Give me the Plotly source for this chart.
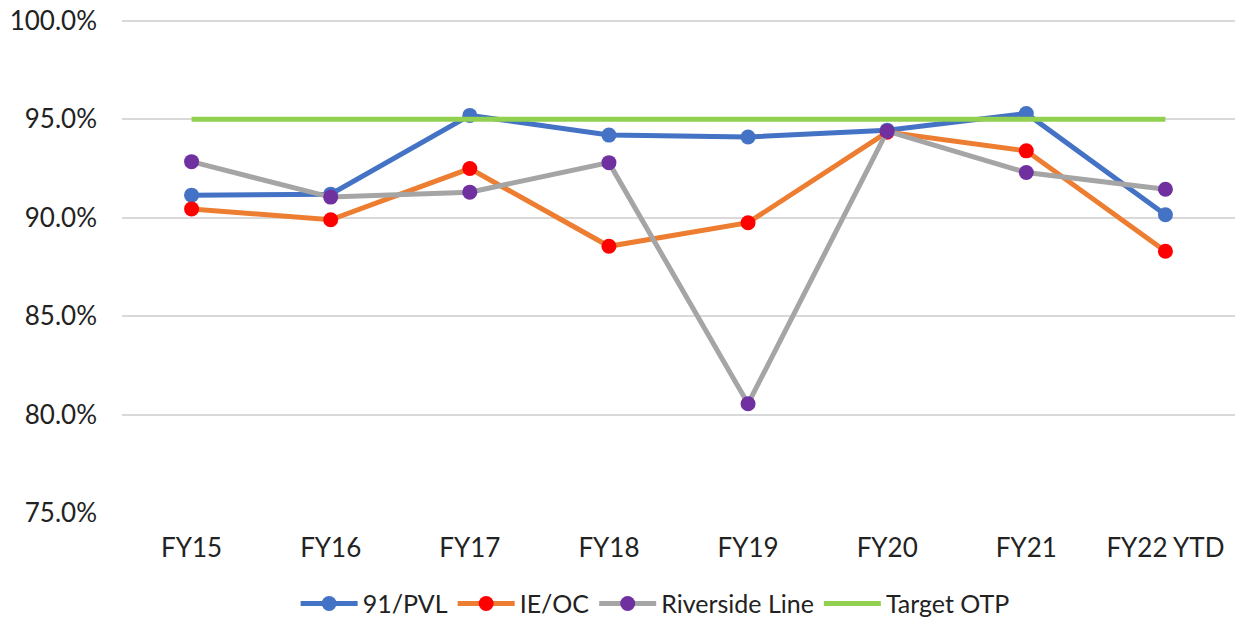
import plotly.graph_objects as go

categories = ["FY15", "FY16", "FY17", "FY18", "FY19", "FY20", "FY21", "FY22 YTD"]
pvl_91 = [91.15, 91.2, 95.2, 94.2, 94.1, 94.45, 95.3, 90.15]
ie_oc = [90.45, 89.9, 92.5, 88.55, 89.75, 94.35, 93.4, 88.3]
riverside = [92.85, 91.05, 91.3, 92.8, 80.55, 94.4, 92.3, 91.45]
target = [95.0] * 8
y_ticks = [75, 80, 85, 90, 95, 100]
y_tick_labels = ["75.0%", "80.0%", "85.0%", "90.0%", "95.0%", "100.0%"]

FONT = "Lato"
fig = go.Figure()
fig.add_trace(go.Scatter(x=categories, y=pvl_91, name="91/PVL", mode="lines+markers",
                         line=dict(color="#4472C4", width=5),
                         marker=dict(color="#4472C4", size=15)))
fig.add_trace(go.Scatter(x=categories, y=ie_oc, name="IE/OC", mode="lines+markers",
                         line=dict(color="#ED7D31", width=5),
                         marker=dict(color="#FF0000", size=15)))
fig.add_trace(go.Scatter(x=categories, y=riverside, name="Riverside Line", mode="lines+markers",
                         line=dict(color="#A5A5A5", width=5),
                         marker=dict(color="#7030A0", size=15)))
fig.add_trace(go.Scatter(x=categories, y=target, name="Target OTP", mode="lines",
                         line=dict(color="#92D050", width=5)))

fig.update_layout(
    width=1238, height=625,
    margin=dict(l=122, r=3, t=17, b=112, autoexpand=False),
    paper_bgcolor="white", plot_bgcolor="white",
    font=dict(family=FONT, size=26, color="#222222"),
    showlegend=True,
    legend=dict(orientation="h", x=0.479, xanchor="center", y=-0.183, yanchor="middle",
                font=dict(size=25), itemwidth=57, tracegroupgap=0),
    xaxis=dict(range=[-0.5, 7.5], showgrid=False, zeroline=False, showline=False, ticks="",
               tickfont=dict(size=26), ticklabelstandoff=17, automargin=False),
    yaxis=dict(range=[75, 100.2], tickvals=y_ticks, ticktext=y_tick_labels,
               showgrid=True, gridcolor="#D9D9D9", gridwidth=1.5, zeroline=False,
               showline=False, ticks="", tickfont=dict(size=26), ticklabelstandoff=24,
               ticklabeloverflow="allow", automargin=False),
)
fig.write_html("out.html", config={"displayModeBar": False},
               post_script="document.body.style.margin='0';")
